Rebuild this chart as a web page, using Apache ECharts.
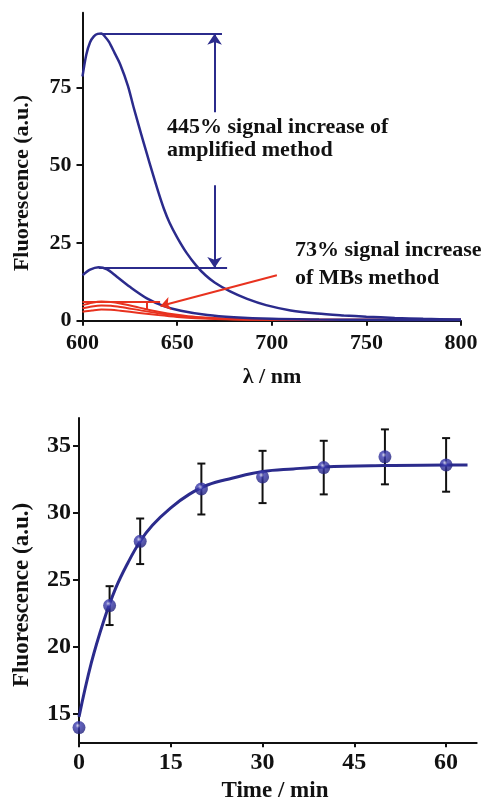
<!DOCTYPE html>
<html>
<head>
<meta charset="utf-8">
<script src="https://cdn.jsdelivr.net/npm/echarts@6/dist/echarts.min.js"></script>
<style>
  html, body { margin: 0; padding: 0; background: #fff; }
  #main { width: 490px; height: 800px; }
</style>
</head>
<body>
<div id="main"></div>
<script>
  // top panel: emission spectra
  var lambdaBig = [600, 602, 604, 606, 608, 610, 612, 614, 617, 620, 624, 627, 631, 634, 637, 640, 643, 646, 650, 655, 660, 665, 670, 678, 687, 697, 710, 724, 738, 750, 765, 780, 800];
  var amplifiedSpectrum = [78.5, 85.5, 89.5, 91.4, 92.2, 92.3, 91.2, 89.6, 86.0, 82.3, 75.5, 68.6, 60.0, 53.7, 47.5, 41.5, 36.0, 31.5, 26.8, 21.8, 17.8, 14.6, 12.2, 9.4, 7.0, 5.0, 3.3, 2.3, 1.7, 1.3, 0.9, 0.6, 0.4];
  var lambdaSmall = [600, 604, 608.5, 613, 618, 625, 634, 643, 652, 666, 680, 700, 725, 750, 800];
  var blankAmplified = [14.6, 16.4, 17.2, 16.5, 14.2, 10.9, 7.2, 4.7, 3.2, 1.8, 1.1, 0.6, 0.4, 0.3, 0.2];
  var lambdaRed = [600, 605, 610, 615, 620, 630, 640, 650, 660, 680, 700, 750, 800];
  var mbsTarget = [5.0, 5.8, 6.2, 6.0, 5.5, 4.2, 2.9, 1.9, 1.2, 0.6, 0.4, 0.3, 0.3];
  var mbsMiddle = [4.0, 4.6, 4.9, 4.8, 4.4, 3.4, 2.4, 1.6, 1.0, 0.5, 0.4, 0.3, 0.3];
  var mbsBlank = [2.9, 3.3, 3.6, 3.5, 3.2, 2.5, 1.8, 1.2, 0.8, 0.4, 0.3, 0.2, 0.2];
  var spectrumTicksX = [600, 650, 700, 750, 800];
  var spectrumTicksY = [0, 25, 50, 75];

  // annotation segments in data units [[x1, y1], [x2, y2]]
  var blueGuides = [[[609.5, 92.2], [673.7, 92.2]], [[608.6, 16.9], [676.4, 16.9]]];
  var blueArrows = [[[669.8, 67], [669.8, 92.2]], [[669.8, 43.5], [669.8, 16.9]]];
  var redGuides = [[[600, 6.1], [641, 6.1]], [[634.1, 6.1], [634.1, 3.8]]];
  var redArrows = [[[702.7, 14.6], [641.2, 4.7]]];

  // bottom panel: kinetics
  var timeMin = [0, 5, 10, 20, 30, 40, 50, 60];
  var fluorescence = [14.0, 23.1, 27.9, 31.8, 32.7, 33.4, 34.2, 33.6];
  var errors = [0, 1.45, 1.7, 1.9, 1.95, 2.0, 2.05, 2.0];
  var fitTime = [0, 2, 4, 6, 8, 10, 12, 15, 18, 21, 25, 30, 35, 40, 50, 60, 63.5];
  var fitValue = [14.8, 18.8, 21.9, 24.4, 26.3, 27.9, 29.1, 30.4, 31.4, 32.1, 32.6, 33.1, 33.3, 33.45, 33.55, 33.6, 33.6];
  var timeTicks = [0, 15, 30, 45, 60];
  var kineticTicksY = [15, 20, 25, 30, 35];

  var BLUE = '#2b2b8c';
  var RED = '#e8321f';
  var INK = '#111';
  var FONT = 'Liberation Serif';

  function zip(xs, ys) {
    return xs.map(function (x, i) { return [x, ys[i]]; });
  }

  function segs(list, withArrow) {
    return list.map(function (s) {
      return [
        { coord: s[0], symbol: 'none' },
        { coord: s[1], symbol: withArrow ? 'arrow' : 'none' }
      ];
    });
  }

  function axisX(grid, min, max, ticks, size, margin) {
    return {
      gridIndex: grid, type: 'value', min: min, max: max,
      splitLine: { show: false },
      axisLine: { onZero: false, lineStyle: { color: INK, width: 2 } },
      axisTick: { customValues: ticks, length: 5, lineStyle: { color: INK, width: 2 } },
      axisLabel: { customValues: ticks, margin: margin, color: INK, fontFamily: FONT, fontWeight: 'bold', fontSize: size }
    };
  }

  function axisY(grid, min, max, ticks, size, margin) {
    return {
      gridIndex: grid, type: 'value', min: min, max: max,
      splitLine: { show: false },
      axisLine: { show: true, onZero: false, lineStyle: { color: INK, width: 2 } },
      axisTick: { show: true, customValues: ticks, length: 6, lineStyle: { color: INK, width: 2 } },
      axisLabel: { customValues: ticks, margin: margin, color: INK, fontFamily: FONT, fontWeight: 'bold', fontSize: size }
    };
  }

  function txt(x, y, text, size, extra) {
    var el = {
      type: 'text', x: x, y: y, silent: true,
      style: {
        text: text, font: 'bold ' + size + 'px "' + FONT + '"', fill: INK,
        align: 'left', textAlign: 'left', verticalAlign: 'top', textVerticalAlign: 'top'
      }
    };
    if (extra) {
      el.rotation = extra.rotation || 0;
      el.style.align = el.style.textAlign = 'center';
      el.style.verticalAlign = el.style.textVerticalAlign = 'middle';
    }
    return el;
  }

  var chart = echarts.init(document.getElementById('main'));

  var errData = [];
  timeMin.forEach(function (t, i) {
    if (errors[i] > 0) errData.push([t, fluorescence[i] - errors[i], fluorescence[i] + errors[i]]);
  });

  chart.setOption({
    backgroundColor: '#fff',
    animation: false,
    grid: [
      { left: 82.5, right: 29, top: 12.7, bottom: 479.3 },
      { left: 79, right: 13.3, top: 418, bottom: 57.7 }
    ],
    xAxis: [
      axisX(0, 600, 800, spectrumTicksX, 22, 12),
      axisX(1, 0, 65, timeTicks, 24, 8)
    ],
    yAxis: [
      axisY(0, 0, 99, spectrumTicksY, 22, 11),
      axisY(1, 12.9, 37.1, kineticTicksY, 24, 8)
    ],
    graphic: [
      txt(22, 183, 'Fluorescence (a.u.)', 22, { rotation: Math.PI / 2 }),
      txt(272, 377, 'λ / nm', 22, { rotation: 0 }),
      txt(22, 595, 'Fluorescence (a.u.)', 23, { rotation: Math.PI / 2 }),
      txt(275, 791, 'Time / min', 23, { rotation: 0 }),
      txt(167, 116, '445% signal increase of', 22),
      txt(167, 139, 'amplified method', 22),
      txt(295, 239, '73% signal increase', 22),
      txt(295, 267, 'of MBs method', 22)
    ],
    series: [
      {
        type: 'line', xAxisIndex: 0, yAxisIndex: 0, data: zip(lambdaBig, amplifiedSpectrum),
        smooth: 0.3, showSymbol: false, lineStyle: { color: BLUE, width: 2.5 }, z: 3,
        markLine: {
          silent: true, symbolSize: 11, label: { show: false }, emphasis: { disabled: true },
          lineStyle: { color: BLUE, width: 2, type: 'solid' },
          data: segs(blueGuides, false).concat(segs(blueArrows, true))
        }
      },
      {
        type: 'line', xAxisIndex: 0, yAxisIndex: 0, data: zip(lambdaSmall, blankAmplified),
        smooth: 0.3, showSymbol: false, lineStyle: { color: BLUE, width: 2.5 }, z: 3
      },
      {
        type: 'line', xAxisIndex: 0, yAxisIndex: 0, data: zip(lambdaRed, mbsTarget),
        smooth: 0.3, showSymbol: false, lineStyle: { color: RED, width: 2 }, z: 2,
        markLine: {
          silent: true, symbolSize: 10, label: { show: false }, emphasis: { disabled: true },
          lineStyle: { color: RED, width: 2, type: 'solid' },
          data: segs(redGuides, false).concat(segs(redArrows, true))
        }
      },
      {
        type: 'line', xAxisIndex: 0, yAxisIndex: 0, data: zip(lambdaRed, mbsMiddle),
        smooth: 0.3, showSymbol: false, lineStyle: { color: RED, width: 2 }, z: 2
      },
      {
        type: 'line', xAxisIndex: 0, yAxisIndex: 0, data: zip(lambdaRed, mbsBlank),
        smooth: 0.3, showSymbol: false, lineStyle: { color: RED, width: 2 }, z: 2
      },
      {
        type: 'custom', xAxisIndex: 1, yAxisIndex: 1, data: errData, z: 2,
        renderItem: function (params, api) {
          var lo = api.coord([api.value(0), api.value(1)]);
          var hi = api.coord([api.value(0), api.value(2)]);
          var w = 4;
          var st = { stroke: INK, lineWidth: 2 };
          return {
            type: 'group',
            children: [
              { type: 'line', shape: { x1: lo[0], y1: lo[1], x2: hi[0], y2: hi[1] }, style: st },
              { type: 'line', shape: { x1: lo[0] - w, y1: lo[1], x2: lo[0] + w, y2: lo[1] }, style: st },
              { type: 'line', shape: { x1: hi[0] - w, y1: hi[1], x2: hi[0] + w, y2: hi[1] }, style: st }
            ]
          };
        }
      },
      {
        type: 'line', xAxisIndex: 1, yAxisIndex: 1, data: zip(fitTime, fitValue),
        smooth: 0.4, showSymbol: false, lineStyle: { color: BLUE, width: 3 }, z: 3
      },
      {
        type: 'scatter', xAxisIndex: 1, yAxisIndex: 1, data: zip(timeMin, fluorescence),
        symbolSize: 13, z: 4,
        itemStyle: {
          color: {
            type: 'radial', x: 0.42, y: 0.35, r: 0.65,
            colorStops: [
              { offset: 0, color: '#d8d8f4' },
              { offset: 0.3, color: '#3b3bb0' },
              { offset: 1, color: '#1f1f7a' }
            ]
          }
        }
      }
    ]
  });
</script>
</body>
</html>
